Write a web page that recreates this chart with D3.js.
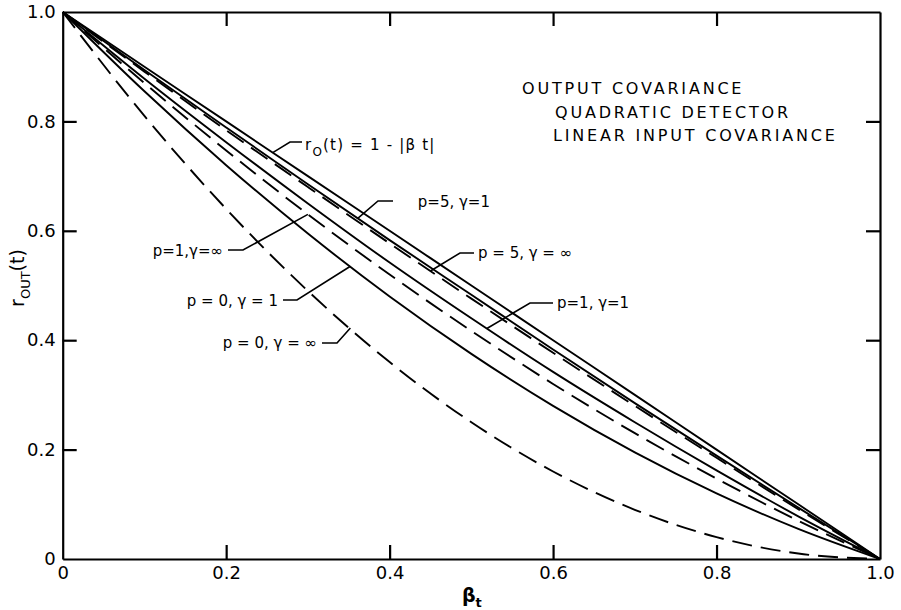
<!DOCTYPE html>
<html>
<head>
<meta charset="utf-8">
<script src="https://cdn.jsdelivr.net/npm/d3@7"></script>
<style>
  body { margin: 0; background: #fff; }
  text { font-family: "DejaVu Sans", sans-serif; fill: #000; }
  .axis path, .axis line { stroke: #000; stroke-width: 2.2; }
  .axis text { font-size: 18px; }
  .curve { fill: none; stroke: #000; stroke-width: 1.9; }
  .leader { fill: none; stroke: #000; stroke-width: 1.6; }
  .lbl { font-size: 15px; }
  .title { font-size: 16px; letter-spacing: 2.8px; }
</style>
</head>
<body>
<svg id="chart" width="901" height="610"></svg>
<script>
// values
const betaT = [0, 0.1, 0.2, 0.3, 0.4, 0.5, 0.6, 0.7, 0.8, 0.9, 1.0];
const r0Line = [1, 0.9, 0.8, 0.7, 0.6, 0.5, 0.4, 0.3, 0.2, 0.1, 0];
const p5g1 = [1, 0.894, 0.789, 0.685, 0.583, 0.483, 0.383, 0.285, 0.189, 0.094, 0];
const p5gInf = [1, 0.891, 0.784, 0.680, 0.577, 0.476, 0.377, 0.280, 0.185, 0.091, 0];
const p1g1 = [1, 0.878, 0.762, 0.650, 0.542, 0.440, 0.342, 0.250, 0.162, 0.078, 0];
const p1gInf = [1, 0.870, 0.747, 0.630, 0.520, 0.417, 0.320, 0.230, 0.147, 0.070, 0];
const p0g1 = [1, 0.855, 0.720, 0.595, 0.480, 0.375, 0.280, 0.195, 0.120, 0.055, 0];
const p0gInf = [1, 0.81, 0.64, 0.49, 0.36, 0.25, 0.16, 0.09, 0.04, 0.01, 0];
const tickValues = [0, 0.2, 0.4, 0.6, 0.8, 1.0];

(function () {
    const svg = d3.select("#chart");
    const left = 62.7, right = 880, top = 12, bottom = 559;
    const tickLen = 14;

    const x = d3.scaleLinear().domain([0, 1]).range([left, right]);
    const y = d3.scaleLinear().domain([0, 1]).range([bottom, top]);
    const fmt = d => d === 0 ? "0" : d.toFixed(1);

    // axes, ticks pointing inward
    svg.append("g").attr("class", "axis")
        .attr("transform", `translate(0,${bottom})`)
        .call(d3.axisBottom(x).tickValues(tickValues).tickFormat(fmt)
            .tickSizeInner(-tickLen).tickSizeOuter(0).tickPadding(7));
    svg.append("g").attr("class", "axis")
        .attr("transform", `translate(${left},0)`)
        .call(d3.axisLeft(y).tickValues(tickValues).tickFormat(fmt)
            .tickSizeInner(-tickLen).tickSizeOuter(0).tickPadding(7));
    svg.append("g").attr("class", "axis")
        .attr("transform", `translate(0,${top})`)
        .call(d3.axisTop(x).tickValues(tickValues).tickFormat("")
            .tickSizeInner(-tickLen).tickSizeOuter(0));
    svg.append("g").attr("class", "axis")
        .attr("transform", `translate(${right},0)`)
        .call(d3.axisRight(y).tickValues(tickValues).tickFormat("")
            .tickSizeInner(-tickLen).tickSizeOuter(0));
    // no ticks on the corners
    svg.selectAll(".axis .tick").filter(d => d === 0 || d === 1).select("line").remove();

    const series = [
        { vals: r0Line, dashed: false },
        { vals: p5g1, dashed: false },
        { vals: p5gInf, dashed: true },
        { vals: p1g1, dashed: false },
        { vals: p1gInf, dashed: true },
        { vals: p0g1, dashed: false },
        { vals: p0gInf, dashed: true }
    ];

    const line = d3.line()
        .x((d, i) => x(betaT[i]))
        .y(d => y(d))
        .curve(d3.curveMonotoneX);

    svg.selectAll(".curve")
        .data(series)
        .join("path")
        .attr("class", "curve")
        .attr("stroke-dasharray", d => d.dashed ? "20,9" : null)
        .attr("d", d => line(d.vals));

    // value on a series at a given beta
    function at(vals, b) {
        return d3.scaleLinear().domain(betaT).range(vals)(b);
    }

    // curve labels with leader lines
    const labels = [
        { vals: r0Line, b: 0.257, tx: 305, ty: 150, anchor: "start", elbow: [290, 142], end: [302, 142], r0: true },
        { vals: p5g1, b: 0.361, tx: 490, ty: 207, anchor: "end", elbow: [378, 201], end: [393, 201], text: "p=5, γ=1" },
        { vals: p5gInf, b: 0.45, tx: 478, ty: 258, anchor: "start", elbow: [460, 253], end: [474, 253], text: "p = 5, γ = ∞" },
        { vals: p1gInf, b: 0.30, tx: 223, ty: 256, anchor: "end", elbow: [243, 250], end: [228, 250], text: "p=1,γ=∞" },
        { vals: p1g1, b: 0.519, tx: 557, ty: 308, anchor: "start", elbow: [530, 303], end: [553, 303], text: "p=1, γ=1" },
        { vals: p0g1, b: 0.352, tx: 278, ty: 306, anchor: "end", elbow: [297, 300], end: [283, 300], text: "p = 0, γ = 1" },
        { vals: p0gInf, b: 0.352, tx: 317, ty: 348, anchor: "end", elbow: [337, 343], end: [322, 343], text: "p = 0, γ = ∞" }
    ];

    labels.forEach(l => {
        const px = x(l.b), py = y(at(l.vals, l.b));
        svg.append("path").attr("class", "leader")
            .attr("d", `M${px},${py}L${l.elbow[0]},${l.elbow[1]}L${l.end[0]},${l.end[1]}`);
        const t = svg.append("text").attr("class", "lbl")
            .attr("x", l.tx).attr("y", l.ty).attr("text-anchor", l.anchor);
        if (l.r0) {
            t.attr("font-size", 18).attr("letter-spacing", 1.2);
            t.append("tspan").text("r");
            t.append("tspan").attr("dy", 6).attr("font-size", 12).text("O");
            t.append("tspan").attr("dy", -6).text("(t) = 1 - |β t|");
        } else {
            t.text(l.text);
        }
    });

    // block title
    svg.append("text").attr("class", "title").attr("x", 522).attr("y", 94).text("OUTPUT COVARIANCE");
    svg.append("text").attr("class", "title").attr("x", 555).attr("y", 118).text("QUADRATIC DETECTOR");
    svg.append("text").attr("class", "title").attr("x", 553).attr("y", 141).text("LINEAR INPUT COVARIANCE");

    // axis titles
    const xt = svg.append("text").attr("x", 462).attr("y", 602)
        .attr("font-size", 19).attr("font-weight", "bold");
    xt.append("tspan").text("β");
    xt.append("tspan").attr("dy", 5).attr("font-size", 13).text("t");

    const yt = svg.append("text")
        .attr("transform", "translate(24,278) rotate(-90)")
        .attr("text-anchor", "middle").attr("font-size", 19);
    yt.append("tspan").text("r");
    yt.append("tspan").attr("dy", 6).attr("font-size", 13).text("OUT");
    yt.append("tspan").attr("dy", -6).text("(t)");
})();
</script>
</body>
</html>
